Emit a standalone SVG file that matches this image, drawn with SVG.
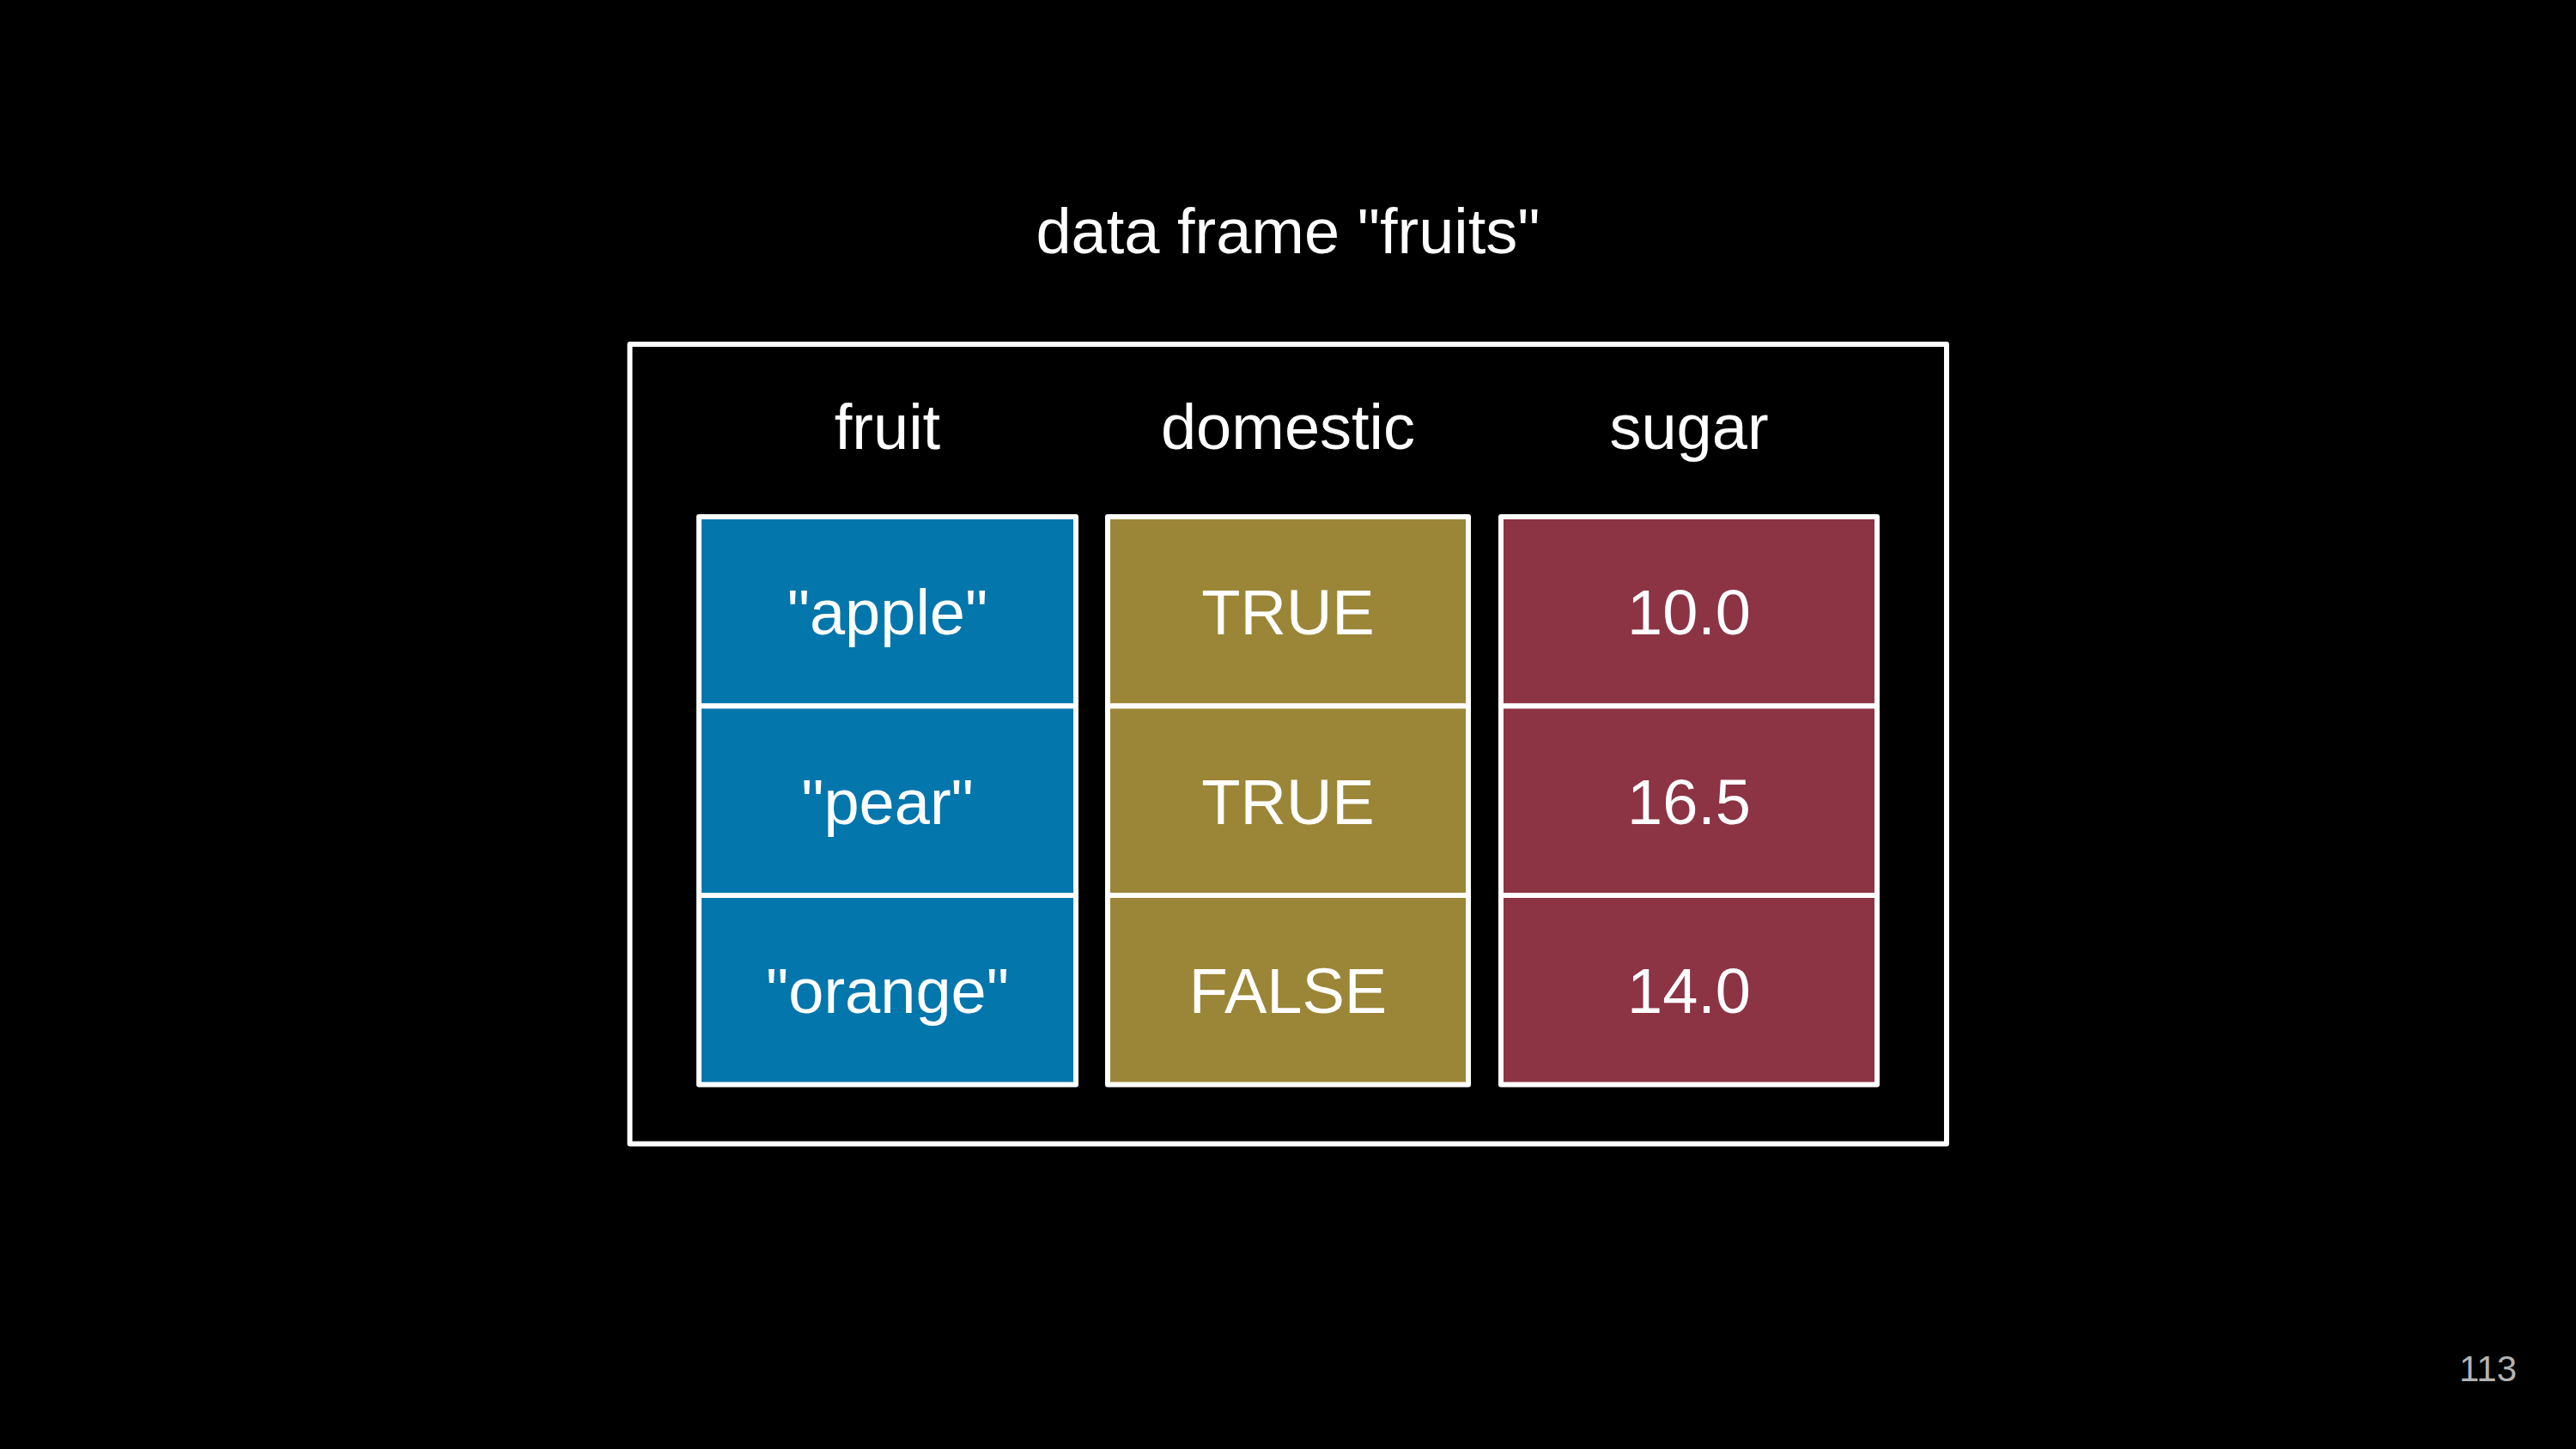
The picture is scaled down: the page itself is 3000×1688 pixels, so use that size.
<svg xmlns="http://www.w3.org/2000/svg" width="3000" height="1688" viewBox="0 0 3000 1688">
  <style>
    .bg { fill: #000000; }
    .frame { fill: none; stroke: #ffffff; stroke-width: 6; stroke-linejoin: round; }
    .cell { stroke: #ffffff; stroke-width: 6; stroke-linejoin: round; }
    .blue { fill: #0376AC; }
    .olive { fill: #9B8638; }
    .red { fill: #8C3344; }
    .t { font-family: "Liberation Sans", Arial, sans-serif; font-size: 74px; fill: #ffffff; text-anchor: middle; }
    .pg { font-family: "Liberation Sans", Arial, sans-serif; font-size: 42px; fill: #b3b3b3; text-anchor: end; }
  </style>
  <rect class="bg" x="0" y="0" width="3000" height="1688"/>
  <text id="title" class="t" x="1500" y="295">data frame "fruits"</text>
  <g id="frame">
    <rect class="frame" x="733.5" y="401" width="1533.5" height="931.5"/>
  </g>
  <g id="headers">
    <text class="t" x="1033.5" y="522.5">fruit</text>
    <text class="t" x="1500" y="522.5">domestic</text>
    <text class="t" x="1967" y="522.5">sugar</text>
  </g>
  <g id="col-fruit">
    <g id="cell-apple"><rect class="cell blue" x="814" y="602" width="439" height="220.5"/><text class="t" x="1033.5" y="739">"apple"</text></g>
    <g id="cell-pear"><rect class="cell blue" x="814" y="822.5" width="439" height="220.5"/><text class="t" x="1033.5" y="959.5">"pear"</text></g>
    <g id="cell-orange"><rect class="cell blue" x="814" y="1043" width="439" height="220.5"/><text class="t" x="1033.5" y="1180">"orange"</text></g>
  </g>
  <g id="col-domestic">
    <g id="cell-true1"><rect class="cell olive" x="1290" y="602" width="420" height="220.5"/><text class="t" x="1500" y="739">TRUE</text></g>
    <g id="cell-true2"><rect class="cell olive" x="1290" y="822.5" width="420" height="220.5"/><text class="t" x="1500" y="959.5">TRUE</text></g>
    <g id="cell-false"><rect class="cell olive" x="1290" y="1043" width="420" height="220.5"/><text class="t" x="1500" y="1180">FALSE</text></g>
  </g>
  <g id="col-sugar">
    <g id="cell-10"><rect class="cell red" x="1748" y="602" width="438" height="220.5"/><text class="t" x="1967" y="739">10.0</text></g>
    <g id="cell-16"><rect class="cell red" x="1748" y="822.5" width="438" height="220.5"/><text class="t" x="1967" y="959.5">16.5</text></g>
    <g id="cell-14"><rect class="cell red" x="1748" y="1043" width="438" height="220.5"/><text class="t" x="1967" y="1180">14.0</text></g>
  </g>
  <g id="connectors"></g>
  <text id="page" class="pg" x="2931" y="1609">113</text>
</svg>
